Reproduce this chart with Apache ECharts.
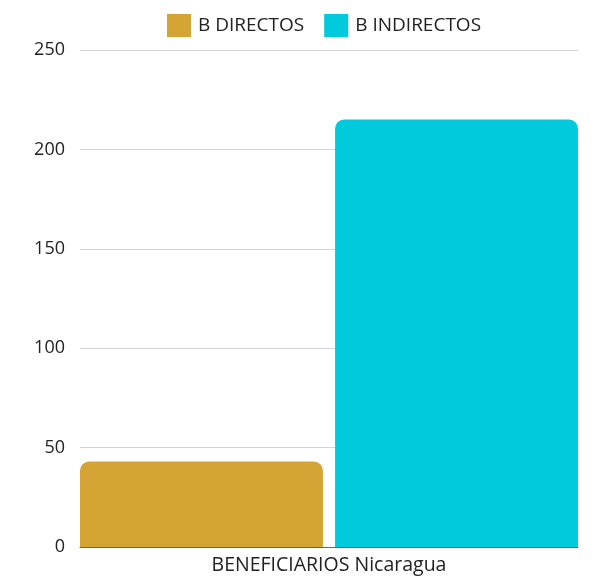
<!DOCTYPE html>
<html>
<head>
<meta charset="utf-8">
<script src="https://cdn.jsdelivr.net/npm/echarts@6/dist/echarts.min.js"></script>
<style>
    html, body { margin: 0; padding: 0; background: #fff; }
    #chart { width: 596px; height: 578px; }
</style>
</head>
<body>
<div id="chart"></div>
<script>
    // datos
    const categories = ['BENEFICIARIOS Nicaragua'];
    const seriesNames = ['B DIRECTOS', 'B INDIRECTOS'];
    const directos = [43];
    const indirectos = [215];
    const yTicks = { min: 0, max: 250, interval: 50 };

    const myChart = echarts.init(document.getElementById('chart'));
    const font = '"Open Sans", "Noto Sans", sans-serif';

    const option = {
        animation: false,
        color: ['#D4A535', '#00CADC'],
        textStyle: { fontFamily: font },
        legend: {
            top: 14,
            left: 167,
            padding: 0,
            itemWidth: 24,
            itemHeight: 23,
            itemGap: 20,
            icon: 'rect',
            textStyle: { fontSize: 19, color: '#222', fontFamily: font, padding: [0, 0, 0, 2] },
            data: seriesNames
        },
        grid: {
            left: 80,
            right: 18,
            top: 50,
            bottom: 31,
            containLabel: false
        },
        xAxis: {
            type: 'category',
            data: categories,
            axisTick: { show: false },
            axisLine: { lineStyle: { color: '#666', width: 1 } },
            axisLabel: { fontSize: 19.5, color: '#222', margin: 8, fontFamily: font }
        },
        yAxis: {
            type: 'value',
            min: yTicks.min,
            max: yTicks.max,
            interval: yTicks.interval,
            axisLine: { show: false },
            axisTick: { show: false },
            splitLine: { lineStyle: { color: '#d4d4d4', width: 1 } },
            axisLabel: { fontSize: 18, color: '#222', margin: 15, fontFamily: font }
        },
        series: [
            {
                name: seriesNames[0],
                type: 'bar',
                barWidth: 243,
                barGap: '5%',
                itemStyle: { borderRadius: [9, 9, 0, 0] },
                data: directos
            },
            {
                name: seriesNames[1],
                type: 'bar',
                barWidth: 243,
                barGap: '5%',
                itemStyle: { borderRadius: [9, 9, 0, 0] },
                data: indirectos
            }
        ]
    };
    myChart.setOption(option);
</script>
</body>
</html>
